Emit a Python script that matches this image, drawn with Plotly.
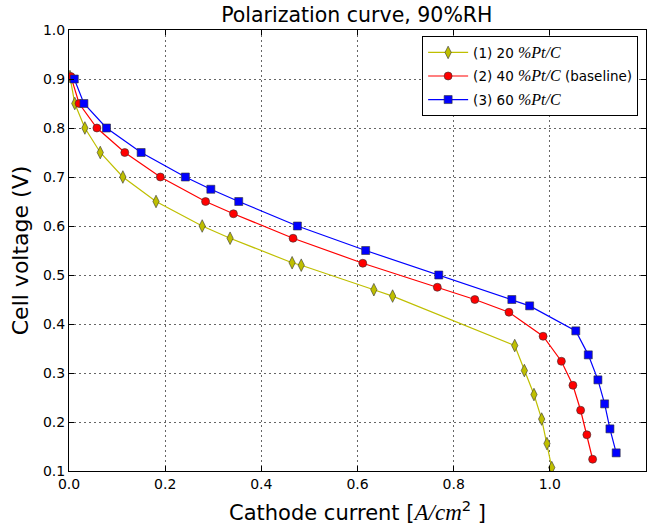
import plotly.graph_objects as go

# Polarization data: cathode current density (A/cm^2) vs cell voltage (V)
i_20 = [0.002, 0.012, 0.033, 0.065, 0.112, 0.181, 0.277, 0.335, 0.464, 0.483,
        0.634, 0.673, 0.927, 0.947, 0.967, 0.983, 0.994, 1.004]
v_20 = [0.905, 0.85, 0.80, 0.75, 0.70, 0.65, 0.60, 0.575, 0.525, 0.52,
        0.47, 0.457, 0.356, 0.305, 0.256, 0.206, 0.156, 0.107]

i_40 = [0.004, 0.021, 0.058, 0.116, 0.190, 0.284, 0.342, 0.466, 0.611,
        0.766, 0.844, 0.915, 0.986, 1.024, 1.048, 1.064, 1.077, 1.089]
v_40 = [0.905, 0.85, 0.80, 0.75, 0.70, 0.65, 0.625, 0.575, 0.524,
        0.475, 0.45, 0.424, 0.375, 0.324, 0.275, 0.224, 0.174, 0.124]

i_60 = [0.011, 0.031, 0.078, 0.150, 0.242, 0.295, 0.353, 0.475, 0.617,
        0.769, 0.921, 0.958, 1.054, 1.080, 1.100, 1.114, 1.125, 1.138]
v_60 = [0.90, 0.85, 0.80, 0.75, 0.70, 0.675, 0.65, 0.60, 0.55,
        0.50, 0.45, 0.437, 0.386, 0.337, 0.286, 0.237, 0.186, 0.137]

x_ticks = [0.0, 0.2, 0.4, 0.6, 0.8, 1.0, 1.2]
y_ticks = [0.1, 0.2, 0.3, 0.4, 0.5, 0.6, 0.7, 0.8, 0.9, 1.0]

MATH = "<span style='font-family:\"Liberation Serif\";font-size:16px'><i>%Pt/C</i></span>"

series = [
    ("(1) 20 " + MATH, i_20, v_20, "#bfbf00", "diamond-tall", 9),
    ("(2) 40 " + MATH + " (baseline)", i_40, v_40, "#ff0000", "circle", 8),
    ("(3) 60 " + MATH, i_60, v_60, "#0000ff", "square", 8),
]

fig = go.Figure()
for k, (name, xs, ys, col, sym, sz) in enumerate(series):
    fig.add_trace(go.Scatter(
        x=xs, y=ys, name=name, mode="lines+markers", legendgroup=f"g{k}",
        line=dict(color=col, width=1.2),
        marker=dict(symbol=sym, size=sz, color=col,
                    line=dict(color="#333333", width=0.6)),
    ))

axis_common = dict(
    showline=True, linecolor="black", linewidth=1, mirror="allticks",
    ticks="inside", ticklen=5, tickcolor="black",
    showgrid=True, gridcolor="#666666", griddash="1.5px,3.5px", gridwidth=1,
    zeroline=False, tickfont=dict(size=14, color="black"),
)

fig.update_xaxes(range=[0, 1.2], tickvals=x_ticks,
                 ticktext=[f"{t:.1f}" for t in x_ticks],
                 title=dict(text="Cathode current [<i><span style='font-family:\"Liberation Serif\";font-size:23px'>A/cm</span></i><sup>2</sup> ]",
                            font=dict(size=21, color="black"), standoff=14),
                 **axis_common)
fig.update_yaxes(range=[0.1, 1.0], tickvals=y_ticks,
                 ticktext=[f"{t:.1f}" for t in y_ticks],
                 title=dict(text="Cell voltage (V)",
                            font=dict(size=22, color="black"), standoff=8),
                 **axis_common)

fig.update_layout(
    width=653, height=529,
    margin=dict(l=69, r=7, t=30, b=58),
    paper_bgcolor="white", plot_bgcolor="white",
    font=dict(family="DejaVu Sans", color="black"),
    title=dict(text="Polarization curve, 90%RH", x=0.5465, xanchor="center",
               y=0.972, yanchor="middle", font=dict(size=20.5, color="black")),
    legend=dict(x=0.612, y=0.986, xanchor="left", yanchor="top",
                bgcolor="white", bordercolor="black", borderwidth=1,
                font=dict(size=13.5, color="black"), itemwidth=40,
                tracegroupgap=3),
    showlegend=True,
)

fig.write_html("out.html")
